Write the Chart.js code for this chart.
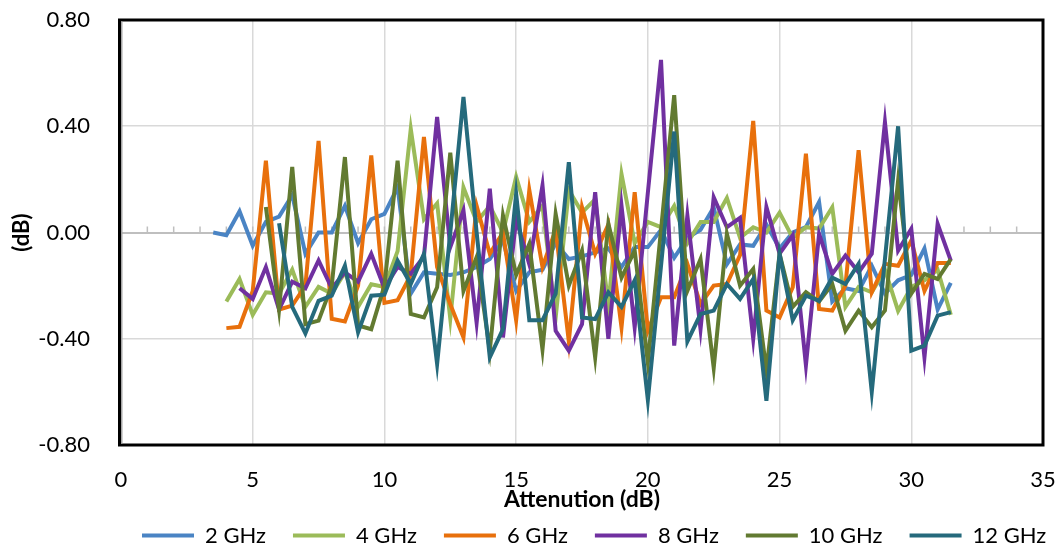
<!DOCTYPE html>
<html>
<head>
<meta charset="utf-8">
<title>Attenuation error</title>
<script src="https://cdn.jsdelivr.net/npm/chart.js@4.4.1/dist/chart.umd.min.js"></script>
<style>
  html, body { margin: 0; padding: 0; background: #fff; }
  #wrap { width: 1064px; height: 549px; }
</style>
</head>
<body>
<div id="wrap"><canvas id="mycanvas" width="1064" height="549"></canvas></div>
<script>
// attenuation setting (dB), shared by every series
var attenuation = [3.5, 4, 4.5, 5, 5.5, 6, 6.5, 7, 7.5, 8,
                   8.5, 9, 9.5, 10, 10.5, 11, 11.5, 12, 12.5, 13,
                   13.5, 14, 14.5, 15, 15.5, 16, 16.5, 17, 17.5, 18,
                   18.5, 19, 19.5, 20, 20.5, 21, 21.5, 22, 22.5, 23,
                   23.5, 24, 24.5, 25, 25.5, 26, 26.5, 27, 27.5, 28,
                   28.5, 29, 29.5, 30, 30.5, 31, 31.5];

// error in dB per frequency (null = not measured)
var ghz2 = [0.00, -0.01, 0.08, -0.05, 0.04, 0.06, 0.14, -0.08, 0.00, 0.00,
            0.10, -0.04, 0.05, 0.07, 0.17, -0.23, -0.15, -0.155, -0.16, -0.15,
            -0.13, -0.10, -0.03, -0.22, -0.15, -0.14, -0.04, -0.10, -0.09, -0.075,
            -0.06, -0.13, -0.055, -0.055, 0.01, -0.095, -0.02, 0.01, 0.095, -0.12,
            -0.045, -0.05, 0.03, -0.06, 0.00, 0.02, 0.115, -0.26, -0.21, -0.22,
            -0.125, -0.23, -0.18, -0.16, -0.06, -0.29, -0.19];
var ghz4 = [null, -0.26, -0.175, -0.31, -0.225, -0.23, -0.14, -0.28, -0.205, -0.23,
            -0.15, -0.28, -0.195, -0.205, -0.07, 0.39, 0.05, 0.11, -0.325, 0.17,
            0.04, 0.10, 0.00, 0.21, 0.04, 0.10, -0.32, 0.16, 0.075, 0.125,
            -0.27, 0.22, -0.04, 0.04, 0.02, 0.10, -0.04, 0.04, 0.04, 0.13,
            -0.02, 0.02, 0.00, 0.075, -0.02, 0.02, 0.015, 0.095, -0.28, -0.205,
            -0.225, -0.14, -0.295, -0.205, -0.18, -0.14, -0.31];
var ghz6 = [null, -0.36, -0.355, -0.22, 0.27, -0.29, -0.275, -0.20, 0.345, -0.325,
            -0.335, -0.20, 0.29, -0.265, -0.255, -0.16, 0.36, -0.13, -0.27, -0.395,
            0.10, -0.08, 0.00, -0.33, 0.16, -0.13, 0.01, -0.41, 0.095, -0.08,
            0.03, -0.357, 0.152, -0.37, -0.244, -0.244, -0.118, -0.27, -0.20, -0.194,
            -0.085, 0.42, -0.294, -0.32, -0.206, 0.297, -0.288, -0.294, -0.20, 0.31,
            -0.225, -0.118, -0.125, -0.03, -0.22, -0.115, -0.115];
var ghz8 = [null, null, -0.21, -0.25, -0.13, -0.29, -0.185, -0.21, -0.105, -0.21,
            -0.15, -0.185, -0.08, -0.21, -0.13, -0.155, -0.09, 0.435, -0.055, 0.083,
            -0.34, 0.165, -0.395, 0.05, -0.12, 0.177, -0.37, -0.445, -0.345, 0.152,
            -0.40, 0.10, -0.357, 0.15, 0.65, -0.426, 0.064, -0.364, 0.133, 0.02,
            0.055, -0.40, 0.096, -0.08, -0.01, -0.50, -0.005, -0.156, -0.087, -0.15,
            -0.08, 0.416, -0.068, 0.014, -0.47, 0.033, -0.106];
var ghz10 = [null, null, null, null, 0.096, -0.29, 0.247, -0.345, -0.332, -0.20,
             0.284, -0.35, -0.364, -0.20, 0.27, -0.307, -0.32, -0.206, 0.30, -0.22,
             -0.093, -0.445, 0.064, -0.16, -0.043, -0.44, 0.07, -0.20, -0.068, -0.47,
             0.033, -0.17, -0.068, -0.49, 0.01, 0.517, -0.22, -0.10, -0.51, -0.005,
             -0.20, -0.137, -0.52, -0.08, -0.28, -0.225, -0.26, -0.194, -0.37, -0.294,
             -0.357, -0.294, 0.196, -0.23, -0.156, -0.175, -0.10];
var ghz12 = [null, null, null, null, null, 0.035, -0.28, -0.38, -0.257, -0.238,
             -0.125, -0.376, -0.238, -0.234, -0.106, -0.194, -0.08, -0.495, 0.00, 0.51,
             0.00, -0.47, -0.364, 0.146, -0.33, -0.33, -0.23, 0.265, -0.32, -0.326,
             -0.225, -0.28, -0.18, -0.63, -0.125, 0.38, -0.41, -0.307, -0.294, -0.194,
             -0.25, -0.175, -0.634, -0.08, -0.33, -0.238, -0.257, -0.17, -0.194, -0.118,
             -0.60, -0.10, 0.40, -0.445, -0.426, -0.313, -0.30];

var seriesNames = ['2 GHz', '4 GHz', '6 GHz', '8 GHz', '10 GHz', '12 GHz'];
var seriesData = [ghz2, ghz4, ghz6, ghz8, ghz10, ghz12];
var colors = ['#4a84c4', '#9bbb59', '#e8700c', '#7030a0', '#627a31', '#256a7c'];

function points(vals) {
	var out = [];
	for (var i = 0; i < attenuation.length; i++) {
		if (vals[i] !== null) out.push({x: attenuation[i], y: vals[i]});
	}
	return out;
}

var datasets = [];
for (var s = 0; s < seriesData.length; s++) {
	datasets.push({
		label: seriesNames[s],
		data: points(seriesData[s]),
		borderColor: colors[s],
		backgroundColor: colors[s],
		borderWidth: 4,
		pointRadius: 0,
		tension: 0,
		order: seriesData.length - s   // later series on top, like the original
	});
}

// plot frame and the little ticks along the zero line
var framePlugin = {
	id: 'frame',
	afterLayout: function(chart) {
		// legend row starts a little right of the plot's left edge
		var lg = chart.legend;
		lg.left = chart.chartArea.left + 21 - lg.options.labels.padding;
		lg.right = chart.width + 200;
	},
	beforeDatasetsDraw: function(chart) {
		var ctx = chart.ctx;
		var xs = chart.scales.x;
		var y0 = chart.scales.y.getPixelForValue(0);
		ctx.save();
		ctx.strokeStyle = '#bfbfbf';
		ctx.lineWidth = 1.5;
		for (var t = 1; t < 35; t++) {
			var px = xs.getPixelForValue(t);
			ctx.beginPath();
			ctx.moveTo(px, y0);
			ctx.lineTo(px, y0 - 6);
			ctx.stroke();
		}
		ctx.restore();
	},
	afterDatasetsDraw: function(chart) {
		var ctx = chart.ctx, a = chart.chartArea;
		ctx.save();
		ctx.strokeStyle = '#000';
		ctx.lineWidth = 3;
		ctx.strokeRect(a.left - 1.5, a.top, a.right - a.left + 1.5, a.bottom - a.top);
		ctx.strokeStyle = '#a6a6a6';
		ctx.lineWidth = 1.5;
		ctx.beginPath();
		ctx.moveTo(a.left + 0.75, a.top + 1.5);
		ctx.lineTo(a.left + 0.75, a.bottom - 1.5);
		ctx.stroke();
		ctx.restore();
	}
};

Chart.defaults.font.family = 'Lato';
Chart.defaults.font.size = 22;
Chart.defaults.color = '#000';

var ctx = document.getElementById('mycanvas');
var myChart = new Chart(ctx, {
	type: 'line',
	data: { datasets: datasets },
	options: {
		responsive: false,
		animation: false,
		events: [],
		layout: { padding: { top: 20, right: 21, left: 0, bottom: 0 } },
		scales: {
			x: {
				type: 'linear',
				min: 0, max: 35,
				ticks: { stepSize: 5, padding: 22 },
				grid: {
					drawTicks: false,
					lineWidth: 1.5,
					color: function(c) {
						var v = c.tick.value;
						return (v === 0 || v === 35) ? 'rgba(0,0,0,0)' : '#d9d9d9';
					}
				},
				border: { display: false },
				title: {
					display: true,
					text: 'Attenution (dB)',
					font: { weight: 'bold', size: 23 },
					padding: { top: 0, bottom: -16.3 }
				},
				afterFit: function(scale) {
					scale.height = 52.5;
					scale.paddingLeft = 0;
					scale.paddingRight = 12;
				}
			},
			y: {
				min: -0.8, max: 0.8,
				ticks: {
					stepSize: 0.4,
					padding: 31,
					callback: function(v) {
						if (Math.abs(v) < 1e-9) v = 0;
						return v.toFixed(2);
					}
				},
				grid: {
					drawTicks: false,
					lineWidth: function(c) {
						return Math.abs(c.tick.value) < 1e-9 ? 2 : 1.5;
					},
					color: function(c) {
						var v = c.tick.value;
						if (Math.abs(v) < 1e-9) return '#bfbfbf';
						if (Math.abs(Math.abs(v) - 0.8) < 1e-9) return 'rgba(0,0,0,0)';
						return '#d9d9d9';
					}
				},
				border: { display: false },
				title: {
					display: true,
					text: '(dB)',
					font: { weight: 'bold', size: 22 },
					padding: { top: 8.8, bottom: 0 }
				},
				afterFit: function(scale) {
					scale.width = 121;
					scale.paddingTop = 12;
					scale.paddingBottom = 12;
				}
			}
		},
		plugins: {
			legend: {
				position: 'bottom',
				align: 'start',
				maxHeight: 51.5,
				labels: {
					usePointStyle: true,
					pointStyle: 'line',
					pointStyleWidth: 52,
					padding: 27,
					font: { size: 22 },
					sort: function(a, b) { return a.datasetIndex - b.datasetIndex; }
				}
			},
			tooltip: { enabled: false }
		}
	},
	plugins: [framePlugin]
});
</script>
</body>
</html>
